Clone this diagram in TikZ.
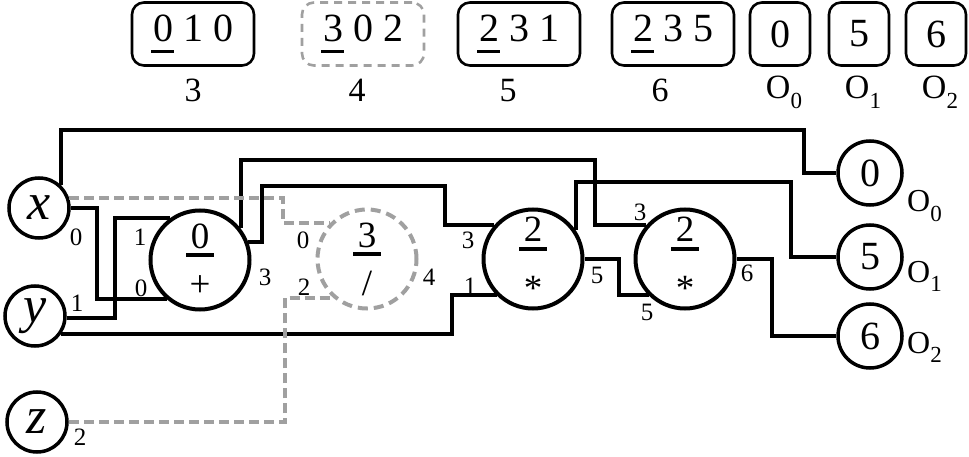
\documentclass[tikz,border=0pt]{standalone}
\usepackage{fontspec}
\setmainfont{Liberation Serif}
\usetikzlibrary{positioning,calc}

\definecolor{deadgray}{RGB}{160,160,160}
\newcommand{\headnum}[1]{\leavevmode\rlap{\hspace{-0.05em}\rule[-0.3em]{0.58em}{0.08em}}#1}
\newcommand{\gatenum}[1]{\leavevmode\rlap{\hspace{-0.12em}\rule[-0.24em]{0.74em}{0.1em}}#1}
\newcommand{\oname}[1]{O\raisebox{-0.3em}{\fontsize{23}{23}\selectfont #1}}

\begin{document}
\begin{tikzpicture}[
    x=1pt, y=-1pt,
    slot/.style={rectangle, draw, line width=2.6pt, rounded corners=12pt, minimum width=122pt, minimum height=63pt, inner sep=0pt, font=\fontsize{40}{44}\selectfont},
    deadslot/.style={slot, draw=deadgray, dash pattern=on 8pt off 6pt},
    outslot/.style={slot, minimum width=60pt},
    tag/.style={inner sep=0pt, font=\fontsize{34}{36}\selectfont},
    var/.style={circle, draw, line width=3.5pt, minimum size=60pt, inner sep=0pt, font=\fontsize{52}{54}\selectfont\itshape},
    gate/.style={circle, draw, line width=4pt, minimum size=99pt, inner sep=0pt, align=center, font=\fontsize{37}{44}\selectfont},
    deadgate/.style={gate, draw=deadgray, dash pattern=on 10pt off 6pt},
    outnode/.style={circle, draw, line width=3.5pt, minimum size=64pt, inner sep=0pt, font=\fontsize{40}{44}\selectfont},
    outname/.style={inner sep=0pt, anchor=base west, font=\fontsize{32}{34}\selectfont},
    wire/.style={line width=4pt},
    deadwire/.style={wire, draw=deadgray, dash pattern=on 10pt off 5pt},
    port/.style={inner sep=0pt, font=\fontsize{25}{27}\selectfont},
]
\useasboundingbox (0,0) rectangle (969,457);

\node[slot] (c3) at (193,34) {\headnum{0} 1 0};
\node[deadslot] (c4) at (363,34) {\headnum{3} 0 2};
\node[slot] (c5) at (519,34) {\headnum{2} 3 1};
\node[slot] (c6) at (673,34) {\headnum{2} 3 5};
\node[outslot] (co0) at (780,34) {0};
\node[outslot] (co1) at (859,34) {5};
\node[outslot] (co2) at (936,34) {6};

\node[tag, below=12pt of c3] (t3) {3};
\node[tag, below=12pt of c4, xshift=-6pt] (t4) {4};
\node[tag, below=12pt of c5, xshift=-11pt] (t5) {5};
\node[tag, below=12pt of c6, xshift=-13pt] (t6) {6};
\node[tag, below=9pt of co0, xshift=4pt] (to0) {\oname{0}};
\node[tag, below=9pt of co1, xshift=4pt] (to1) {\oname{1}};
\node[tag, below=9pt of co2, xshift=4pt] (to2) {\oname{2}};

\node[var] (x) at (39,208) {x};
\node[var] (y) at (35,316) {y};
\node[var] (z) at (37,422) {z};

\node[gate] (add) at (200,260) {\gatenum{0}\\[4pt]+};
\node[deadgate] (div) at (367,259) {\gatenum{3}\\[4pt]/};
\node[gate] (mul1) at (533,259) {\gatenum{2}\\[4pt]\raisebox{-0.3em}{*}};
\node[gate] (mul2) at (685,259) {\gatenum{2}\\[4pt]\raisebox{-0.3em}{*}};

\node[outnode] (o0) at (870,173) {0};
\node[outnode] (o1) at (870,257) {5};
\node[outnode] (o2) at (870,336) {6};
\node[outname] (n0) at ($(o0)+(37,39)$) {\oname{0}};
\node[outname] (n1) at ($(o1)+(37,25)$) {\oname{1}};
\node[outname] (n2) at ($(o2)+(37,17)$) {\oname{2}};

\draw[wire] (x.47) |- (804,130) |- (o0.west);
\draw[wire] (x.east) -| (add.230 -| 97,0) -- (add.230);
\draw[wire] (y.-4) -| (add.126 -| 115,0) -- (add.126);
\draw[wire] (y.-34) -| (mul1.225 -| 452,0) -- (mul1.225);
\draw[wire] (add.38) |- (595,160) |- (mul2.139);
\draw[wire] (add.20) -| (262,186) -| (mul1.139 -| 445,0) -- (mul1.139);
\draw[wire] (mul1.34) |- (791,182) |- (o1.west);
\draw[wire] (mul1.east) -| (mul2.225 -| 619,0) -- (mul2.225);
\draw[wire] (mul2.east) -| (o2.west -| 772,0) -- (o2.west);
\draw[deadwire] (x.18) -| (div.136 -| 283,0) -- (div.136);
\draw[deadwire] (z.east) -| (div.229 -| 285,0) -- (div.229);

\node[port] at (76,237) {0};
\node[port] at (77,303) {1};
\node[port] at (80,437) {2};
\node[port] at (140,237) {1};
\node[port] at (141,288) {0};
\node[port] at (265,277) {3};
\node[port] at (303,240) {0};
\node[port] at (304,287) {2};
\node[port] at (429,277) {4};
\node[port] at (468,240) {3};
\node[port] at (470,286) {1};
\node[port] at (597,275) {5};
\node[port] at (647,312) {5};
\node[port] at (640,212) {3};
\node[port] at (747,273) {6};

\end{tikzpicture}
\end{document}
